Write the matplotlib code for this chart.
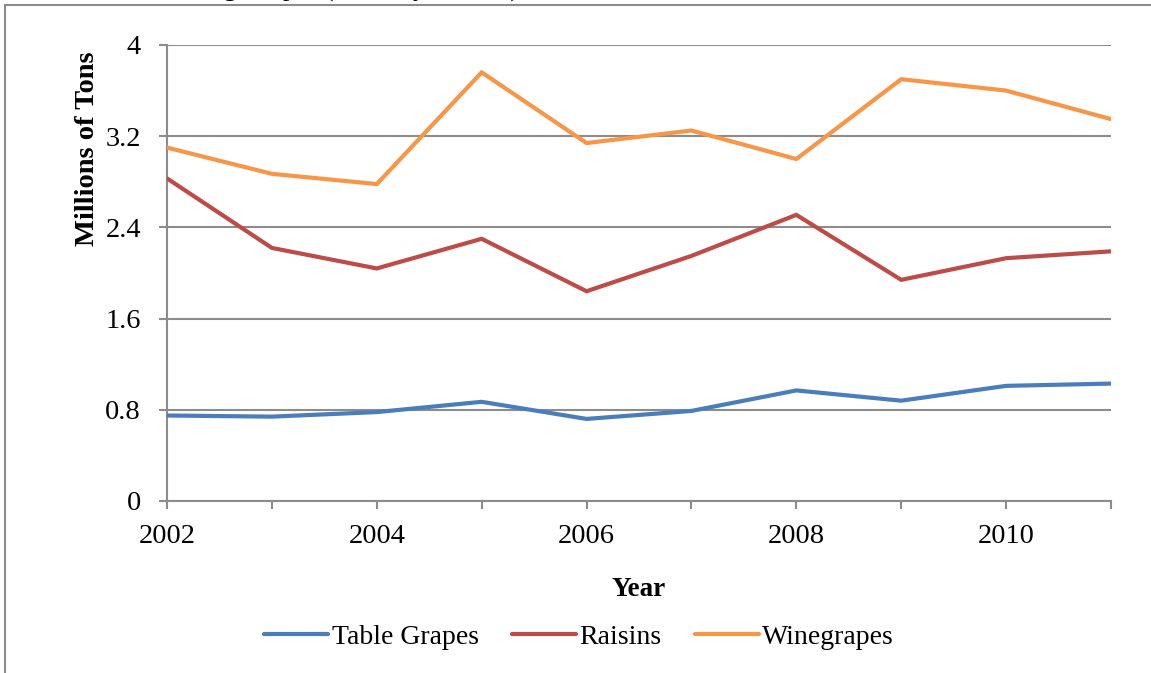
import matplotlib
matplotlib.use("Agg")
import matplotlib.pyplot as plt
from matplotlib.patches import Rectangle

years = [2002, 2003, 2004, 2005, 2006, 2007, 2008, 2009, 2010, 2011]
table_grapes = [0.75, 0.74, 0.78, 0.87, 0.72, 0.79, 0.97, 0.88, 1.01, 1.03]
raisins = [2.83, 2.22, 2.04, 2.30, 1.84, 2.15, 2.51, 1.94, 2.13, 2.19]
winegrapes = [3.10, 2.87, 2.78, 3.76, 3.14, 3.25, 3.00, 3.70, 3.60, 3.35]
series_names = ["Table Grapes", "Raisins", "Winegrapes"]
y_ticks = [0, 0.8, 1.6, 2.4, 3.2, 4.0]
y_tick_labels = ["0", "0.8", "1.6", "2.4", "3.2", "4"]
x_tick_labels = ["2002", "", "2004", "", "2006", "", "2008", "", "2010", ""]

colors = ["#4A7EBB", "#BE4B48", "#F79646"]
gray = "#8C8C8C"
W, H = 1151, 673

plt.rcParams["font.family"] = ["Liberation Serif", "DejaVu Serif"]

fig = plt.figure(figsize=(W / 100, H / 100), dpi=100)
ax = fig.add_axes([167 / W, 1 - 501 / H, (1111 - 167) / W, (501 - 45) / H])

for vals, name, c in zip([table_grapes, raisins, winegrapes], series_names, colors):
    ax.plot(years, vals, color=c, lw=3.0, label=name, solid_capstyle="round",
            solid_joinstyle="miter", zorder=3)

ax.set_xlim(2002, 2011)
ax.set_ylim(0, 4)
ax.set_yticks(y_ticks)
ax.set_yticklabels(y_tick_labels)
ax.set_xticks(years)
ax.set_xticklabels(x_tick_labels)
ax.yaxis.grid(True, color=gray, lw=1.5, zorder=1)
ax.set_axisbelow(True)
for s in ["top", "right"]:
    ax.spines[s].set_visible(False)
for s in ["left", "bottom"]:
    ax.spines[s].set_color(gray)
    ax.spines[s].set_linewidth(1.5)
ax.tick_params(axis="y", length=5.8, width=1.5, color=gray, pad=13, labelsize=20.5)
ax.tick_params(axis="x", length=5.8, width=1.5, color=gray, pad=11, labelsize=20.5)

fig.text(639 / W, 1 - 590 / H, "Year", ha="center", va="center",
         fontsize=19.5, fontweight="bold")
fig.text(88 / W, 1 - 149 / H, "Millions of Tons", ha="center", va="center",
         rotation=90, fontsize=20.5, fontweight="bold")

leg = fig.legend(loc="center", bbox_to_anchor=(579 / W, 1 - 637 / H), ncol=3,
                 frameon=False, fontsize=20, handlelength=2.3,
                 handletextpad=0.12, columnspacing=1.2, borderaxespad=0)
for line in leg.get_lines():
    line.set_linewidth(3.0)

# document frame (partially visible)
fig.patches.append(Rectangle((4.5 / W, -0.05), 1.2, 1 - 5.5 / H + 0.05,
                             transform=fig.transFigure, fill=False,
                             edgecolor=gray, lw=1.5, zorder=0))

# caption above the chart, cut off by the crop (only descenders show)
fig.text(140 / W, 1 + 3 / H, "Crushing Grapes (Quantity in Tons), 2002-2011",
         ha="left", va="baseline", fontsize=19)

fig.savefig("out.png", dpi=100)
